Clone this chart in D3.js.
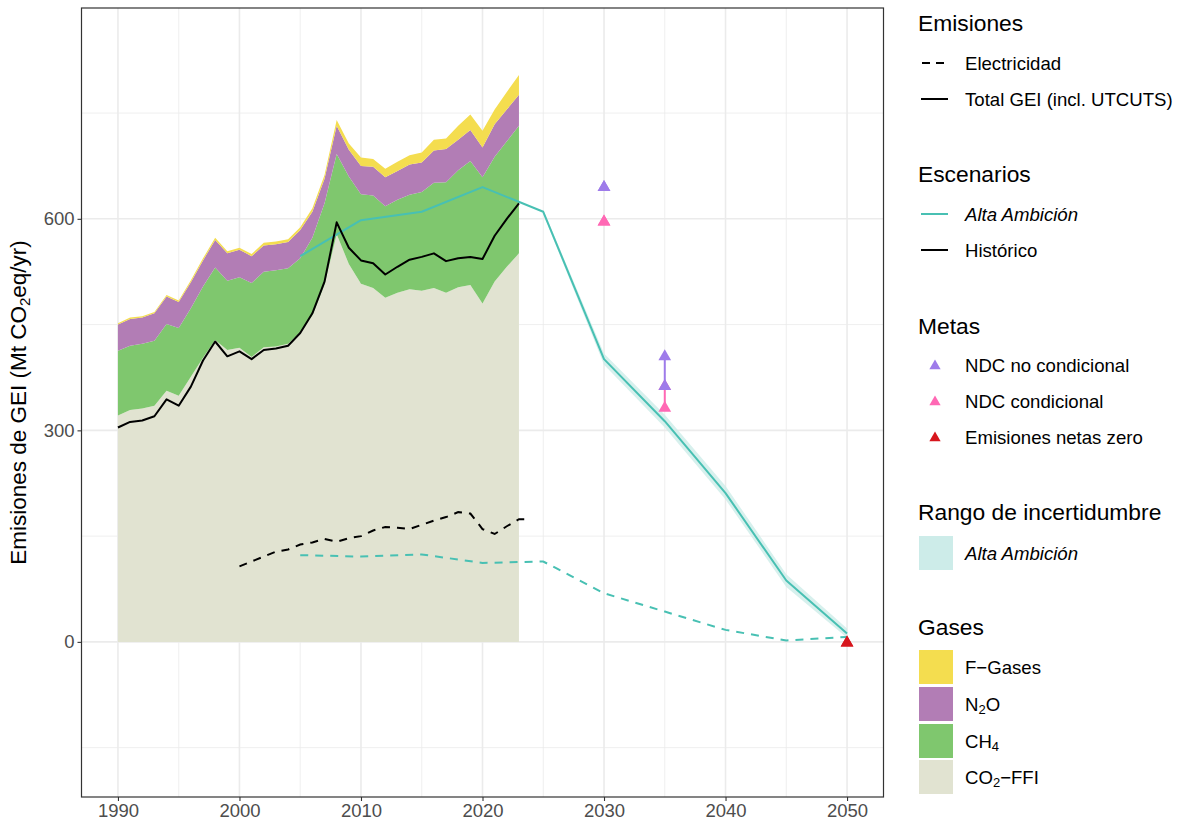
<!DOCTYPE html>
<html>
<head>
<meta charset="utf-8">
<script src="https://cdn.jsdelivr.net/npm/d3@7"></script>
<style>
  body { margin: 0; background: #fff; }
  text { font-family: "Liberation Sans", Arial, sans-serif; }
</style>
</head>
<body>
<svg id="chart" width="1179" height="823"></svg>
<script>
// historical gas inventory (Mt CO2eq/yr)
var years = d3.range(1990, 2024);
var co2ffi = [321, 329, 331, 335, 356, 349, 376, 403, 428, 414, 417, 404, 418, 419, 423, 439, 463, 506, 578, 536,
              508, 502, 488, 495, 500, 498, 502, 495, 503, 506, 480, 511, 532, 551];
var ch4 =    [92, 91, 92, 92, 95, 96, 97, 101, 103, 98, 100, 105, 107, 108, 107, 105, 110, 116, 114, 124,
              127, 131, 130, 132, 134, 140, 149, 157, 166, 176, 179, 177, 178, 181];
var n2o =    [37, 38, 37, 39, 39, 37, 37, 37, 39, 39, 39, 38, 37, 37, 37, 40, 37, 35, 40, 38,
              40, 41, 41, 41, 43, 42, 46, 47, 43, 44, 42, 46, 45, 44];
var fgases = [2, 2, 2, 2, 2, 2, 3, 3, 3, 3, 3, 3, 4, 4, 4, 4, 5, 5, 8, 9,
              12, 11, 12, 13, 13, 14, 15, 15, 20, 22, 24, 21, 25, 28];

// total GEI incl. UTCUTS (historico)
var totalGei = [304, 312, 314, 320, 344, 335, 362, 399, 426, 405, 412, 401, 414, 416, 420, 438, 466, 511, 595, 559,
                541, 537, 521, 532, 542, 546, 551, 540, 544, 546, 543, 576, 600, 622];

// electricity emissions, historical
var elecYears = d3.range(2000, 2025);
var elecHist = [107, 114, 121, 128, 131, 138, 141, 146, 142, 147, 150, 158, 163, 162, 160, 166, 172, 177, 184, 182,
                160, 153, 164, 174, 174];

// Alta Ambicion scenario
var scenYears = [2005, 2010, 2015, 2020, 2025, 2030, 2035, 2040, 2045, 2050];
var scenTotal = [547, 598, 610, 645, 610, 401, 313, 211, 87, 12];
var scenElec = [123, 121, 124, 112, 114, 69, 43, 17, 2, 7];
var bandYears = [2025, 2030, 2035, 2040, 2045, 2050];
var bandLow = [607, 393, 304, 202, 78, 6];
var bandHigh = [613, 409, 322, 221, 96, 19];

// targets
var ndcNoCond = [{year: 2030, lo: 646, hi: 646}, {year: 2035, lo: 364, hi: 406}];
var ndcCond = [{year: 2030, lo: 597, hi: 597}, {year: 2035, lo: 333, hi: 364}];
var netZero = [{year: 2050, lo: 0, hi: 0}];

var yTicks = [0, 300, 600];
var xTicks = [1990, 2000, 2010, 2020, 2030, 2040, 2050];

var gasKeys = ["co2", "ch4", "n2o", "f"];
var gasColors = {co2: "#E1E3D1", ch4: "#7FC76E", n2o: "#B27DB5", f: "#F4DD4F"};
var teal = "#48C0B3";
var bandColor = "#CDECE9";
var purple = "#9E7BEA";
var pink = "#FF68B4";
var red = "#D7161D";

function draw() {
    var svg = d3.select("#chart");
    var pLeft = 81.5, pRight = 883.5, pTop = 8, pBottom = 797;

    var x = d3.scaleLinear().domain([1987, 2053]).range([pLeft, pRight]);
    var y = d3.scaleLinear().domain([-220, 899]).range([pBottom, pTop]);

    // grid
    var grid = svg.append("g");
    [-150, 150, 450, 750].forEach(function (v) {
        grid.append("line").attr("x1", pLeft).attr("x2", pRight).attr("y1", y(v)).attr("y2", y(v))
            .attr("stroke", "#EBEBEB").attr("stroke-width", 0.8);
    });
    [1995, 2005, 2015, 2025, 2035, 2045].forEach(function (v) {
        grid.append("line").attr("x1", x(v)).attr("x2", x(v)).attr("y1", pTop).attr("y2", pBottom)
            .attr("stroke", "#EBEBEB").attr("stroke-width", 0.8);
    });
    yTicks.forEach(function (v) {
        grid.append("line").attr("x1", pLeft).attr("x2", pRight).attr("y1", y(v)).attr("y2", y(v))
            .attr("stroke", "#EBEBEB").attr("stroke-width", 1.6);
    });
    xTicks.forEach(function (v) {
        grid.append("line").attr("x1", x(v)).attr("x2", x(v)).attr("y1", pTop).attr("y2", pBottom)
            .attr("stroke", "#EBEBEB").attr("stroke-width", 1.6);
    });

    // stacked gases
    var rows = years.map(function (yr, i) {
        return {year: yr, co2: co2ffi[i], ch4: ch4[i], n2o: n2o[i], f: fgases[i]};
    });
    var stack = d3.stack().keys(gasKeys)(rows);
    var area = d3.area()
        .x(function (d) { return x(d.data.year); })
        .y0(function (d) { return y(d[0]); })
        .y1(function (d) { return y(d[1]); });

    svg.append("g").selectAll("path")
        .data(stack)
        .enter().append("path")
        .attr("d", area)
        .attr("fill", function (d) { return gasColors[d.key]; });

    // uncertainty band
    var band = d3.area()
        .x(function (d, i) { return x(bandYears[i]); })
        .y0(function (d, i) { return y(bandLow[i]); })
        .y1(function (d, i) { return y(bandHigh[i]); });
    svg.append("path").attr("d", band(bandYears)).attr("fill", bandColor).attr("opacity", 0.8);

    var line = d3.line()
        .x(function (d) { return x(d[0]); })
        .y(function (d) { return y(d[1]); });

    // dashed electricity lines
    svg.append("path")
        .attr("d", line(d3.zip(scenYears, scenElec)))
        .attr("fill", "none").attr("stroke", teal).attr("stroke-width", 2)
        .attr("stroke-dasharray", "8,7");
    svg.append("path")
        .attr("d", line(d3.zip(elecYears, elecHist)))
        .attr("fill", "none").attr("stroke", "#000").attr("stroke-width", 2)
        .attr("stroke-dasharray", "8,7");

    // scenario and historical totals
    svg.append("path")
        .attr("d", line(d3.zip(scenYears, scenTotal)))
        .attr("fill", "none").attr("stroke", teal).attr("stroke-width", 2)
        .attr("stroke-linejoin", "round");
    svg.append("path")
        .attr("d", line(d3.zip(years, totalGei)))
        .attr("fill", "none").attr("stroke", "#000").attr("stroke-width", 2)
        .attr("stroke-linejoin", "round");

    // targets
    var tri = d3.symbol().type(d3.symbolTriangle).size(70);
    function drawTargets(data, color) {
        var g = svg.append("g");
        data.forEach(function (d) {
            if (d.hi > d.lo) {
                g.append("line").attr("x1", x(d.year)).attr("x2", x(d.year))
                    .attr("y1", y(d.lo)).attr("y2", y(d.hi))
                    .attr("stroke", color).attr("stroke-width", 2);
            }
            [d.lo, d.hi].forEach(function (v) {
                g.append("path").attr("d", tri)
                    .attr("transform", "translate(" + x(d.year) + "," + (y(v) + 1) + ")")
                    .attr("fill", color);
            });
        });
    }
    drawTargets(ndcCond, pink);
    drawTargets(ndcNoCond, purple);
    drawTargets(netZero, red);

    // panel border
    svg.append("rect").attr("x", pLeft).attr("y", pTop).attr("width", pRight - pLeft).attr("height", pBottom - pTop)
        .attr("fill", "none").attr("stroke", "#333").attr("stroke-width", 1.2);

    // axes
    var xAxis = d3.axisBottom(x).tickValues(xTicks).tickFormat(d3.format("d")).tickSize(4).tickPadding(3);
    var gx = svg.append("g").attr("transform", "translate(0," + pBottom + ")").call(xAxis);
    var yAxis = d3.axisLeft(y).tickValues(yTicks).tickSize(4).tickPadding(3);
    var gy = svg.append("g").attr("transform", "translate(" + pLeft + ",0)").call(yAxis);
    [gx, gy].forEach(function (g) {
        g.select(".domain").remove();
        g.selectAll(".tick line").attr("stroke", "#333").attr("stroke-width", 1.1);
        g.selectAll(".tick text").attr("fill", "#4D4D4D").style("font-size", "18.5px")
            .style("font-family", "Liberation Sans, Arial, sans-serif");
    });

    var ylab = svg.append("text")
        .attr("transform", "translate(26," + ((pTop + pBottom) / 2) + ") rotate(-90)")
        .attr("text-anchor", "middle")
        .style("font-size", "22.5px");
    ylab.append("tspan").text("Emisiones de GEI (Mt CO");
    ylab.append("tspan").attr("baseline-shift", "-25%").style("font-size", "15px").text("2");
    ylab.append("tspan").text("eq/yr)");

    // legend
    var lg = svg.append("g");
    var lx = 918, keyX = 921, textX = 965;

    function title(txt, yy) {
        lg.append("text").attr("x", lx).attr("y", yy).style("font-size", "22.8px").text(txt);
    }
    function label(yy, parts, italic) {
        var t = lg.append("text").attr("x", textX).attr("y", yy + 6.5).style("font-size", "18.6px");
        if (italic) t.style("font-style", "italic");
        parts.forEach(function (p) {
            var s = t.append("tspan").text(p[0]);
            if (p[1]) s.attr("baseline-shift", "-25%").style("font-size", "13px");
        });
    }
    function lineKey(yy, color, dash) {
        var l = lg.append("line").attr("x1", keyX).attr("x2", keyX + 27).attr("y1", yy).attr("y2", yy)
            .attr("stroke", color).attr("stroke-width", 2);
        if (dash) l.attr("stroke-dasharray", "8,6").attr("x1", keyX + 1);
    }
    function triKey(yy, color) {
        lg.append("path").attr("d", d3.symbol().type(d3.symbolTriangle).size(55))
            .attr("transform", "translate(" + (keyX + 14) + "," + (yy + 1) + ")").attr("fill", color);
    }
    function boxKey(yy, color) {
        lg.append("rect").attr("x", 919).attr("y", yy - 17).attr("width", 34).attr("height", 34).attr("fill", color);
    }

    title("Emisiones", 31);
    lineKey(63, "#000", true); label(63, [["Electricidad"]]);
    lineKey(99, "#000", false); label(99, [["Total GEI (incl. UTCUTS)"]]);

    title("Escenarios", 182);
    lineKey(214, teal, false); label(214, [["Alta Ambición"]], true);
    lineKey(250, "#000", false); label(250, [["Histórico"]]);

    title("Metas", 334);
    triKey(365, purple); label(365, [["NDC no condicional"]]);
    triKey(401, pink); label(401, [["NDC condicional"]]);
    triKey(437, red); label(437, [["Emisiones netas zero"]]);

    title("Rango de incertidumbre", 520);
    boxKey(553, bandColor); label(553, [["Alta Ambición"]], true);

    title("Gases", 635);
    boxKey(667, gasColors.f); label(667, [["F\u2212Gases"]]);
    boxKey(704, gasColors.n2o); label(704, [["N"], ["2", true], ["O"]]);
    boxKey(741, gasColors.ch4); label(741, [["CH"], ["4", true]]);
    boxKey(777, gasColors.co2); label(777, [["CO"], ["2", true], ["\u2212FFI"]]);
}

draw();
</script>
</body>
</html>
